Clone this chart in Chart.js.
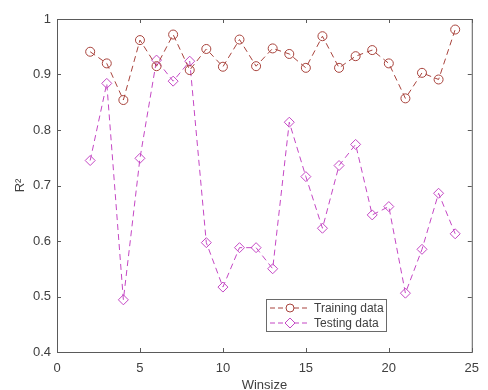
<!DOCTYPE html>
<html>
<head>
<meta charset="utf-8">
<script src="https://cdn.jsdelivr.net/npm/chart.js@4/dist/chart.umd.min.js"></script>
<style>
html,body{margin:0;padding:0;background:#fff;}
#wrap{width:488px;height:390px;}
</style>
</head>
<body>
<div id="wrap"><canvas id="c" width="488" height="390"></canvas></div>
<script>
const winsize = [2,3,4,5,6,7,8,9,10,11,12,13,14,15,16,17,18,19,20,21,22,23,24];
const trainingR2 = [0.941,0.920,0.854,0.962,0.915,0.972,0.908,0.946,0.914,0.963,0.915,0.947,0.937,0.912,0.969,0.912,0.933,0.944,0.920,0.857,0.903,0.891,0.981];
const testingR2 = [0.745,0.884,0.494,0.749,0.926,0.888,0.924,0.597,0.517,0.588,0.588,0.550,0.814,0.716,0.623,0.736,0.774,0.647,0.662,0.506,0.585,0.686,0.613];
const xTicks = [0,5,10,15,20,25];
const yTicks = [0.4,0.5,0.6,0.7,0.8,0.9,1];
const seriesNames = ['Training data','Testing data'];

const trainColor = '#a8433c';
const testColor = '#c447c4';
const axisColor = '#5a5a5a';
const textColor = '#404040';
const fontFam = '"Liberation Sans", Arial, sans-serif';

const toPts = (xs, ys) => xs.map((x,i)=>({x:x, y:ys[i]}));

const frame = {
  id:'frame',
  afterDraw(chart){
    const {ctx, chartArea:a, scales} = chart;
    ctx.save();
    ctx.strokeStyle = axisColor;
    ctx.lineWidth = 1;
    ctx.strokeRect(a.left+0.5, a.top+0.5, a.right-a.left, a.bottom-a.top);
    ctx.beginPath();
    xTicks.forEach(v=>{
      const px = Math.round(scales.x.getPixelForValue(v))+0.5;
      ctx.moveTo(px, a.bottom); ctx.lineTo(px, a.bottom-4);
      ctx.moveTo(px, a.top); ctx.lineTo(px, a.top+4);
    });
    yTicks.forEach(v=>{
      const py = Math.round(scales.y.getPixelForValue(v))+0.5;
      ctx.moveTo(a.left, py); ctx.lineTo(a.left+4, py);
      ctx.moveTo(a.right, py); ctx.lineTo(a.right-4, py);
    });
    ctx.stroke();
    // legend
    const lx = 266, ly = 299, lw = 120, lh = 32;
    ctx.fillStyle = '#fff';
    ctx.fillRect(lx, ly, lw, lh);
    ctx.strokeStyle = '#6a6a6a';
    ctx.strokeRect(lx+0.5, ly+0.5, lw, lh);
    const items = [
      {name:seriesNames[0], color:trainColor, style:'circle'},
      {name:seriesNames[1], color:testColor, style:'rectRot'}
    ];
    items.forEach((it,i)=>{
      const cy = ly + 9 + i*15;
      ctx.strokeStyle = it.color;
      ctx.lineWidth = 1;
      ctx.setLineDash([5,3]);
      ctx.beginPath();
      ctx.moveTo(lx+4, cy); ctx.lineTo(lx+44, cy);
      ctx.stroke();
      ctx.setLineDash([]);
      ctx.fillStyle = '#fff';
      ctx.beginPath();
      if (it.style==='circle') {
        ctx.arc(lx+24, cy, 4, 0, Math.PI*2);
      } else {
        ctx.moveTo(lx+24, cy-5); ctx.lineTo(lx+29, cy); ctx.lineTo(lx+24, cy+5); ctx.lineTo(lx+19, cy); ctx.closePath();
      }
      ctx.fill(); ctx.stroke();
      ctx.fillStyle = textColor;
      ctx.font = '12px ' + fontFam;
      ctx.textBaseline = 'middle';
      ctx.textAlign = 'left';
      ctx.fillText(it.name, lx+48, cy+1);
    });
    ctx.restore();
  }
};

new Chart(document.getElementById('c'), {
  type:'scatter',
  data:{
    datasets:[
      {label:seriesNames[0], data:toPts(winsize,trainingR2), showLine:true,
       borderColor:trainColor, backgroundColor:'rgba(0,0,0,0)', borderWidth:1, borderDash:[6,4],
       pointStyle:'circle', pointRadius:4.5, pointBorderColor:trainColor, pointBorderWidth:1,
       pointBackgroundColor:'rgba(0,0,0,0)'},
      {label:seriesNames[1], data:toPts(winsize,testingR2), showLine:true,
       borderColor:testColor, backgroundColor:'rgba(0,0,0,0)', borderWidth:1, borderDash:[6,4],
       pointStyle:'rectRot', pointRadius:5, pointBorderColor:testColor, pointBorderWidth:1,
       pointBackgroundColor:'rgba(0,0,0,0)'}
    ]
  },
  options:{
    responsive:false, animation:false,
    layout:{padding:{top:19,right:9,left:0,bottom:0}},
    plugins:{legend:{display:false}, tooltip:{enabled:false}},
    scales:{
      x:{type:'linear', min:0, max:25,
         afterFit(s){ s.height = 38; },
         afterBuildTicks(s){ s.ticks = xTicks.map(v=>({value:v})); },
         grid:{display:false, drawTicks:false}, border:{display:false},
         ticks:{padding:9, color:textColor, font:{family:fontFam, size:13}, maxRotation:0},
         title:{display:true, text:'Winsize', color:textColor, font:{family:fontFam, size:13}, padding:{top:4,bottom:-3}}},
      y:{type:'linear', min:0.4, max:1,
         afterFit(s){ s.width = 57; },
         afterBuildTicks(s){ s.ticks = yTicks.map(v=>({value:v})); },
         grid:{display:false, drawTicks:false}, border:{display:false},
         ticks:{padding:6, color:textColor, font:{family:fontFam, size:13}, callback:v=>String(v)},
         title:{display:true, text:'R²', color:textColor, font:{family:fontFam, size:13}, padding:{top:13,bottom:0}}}
    }
  },
  plugins:[frame]
});
</script>
</body>
</html>
